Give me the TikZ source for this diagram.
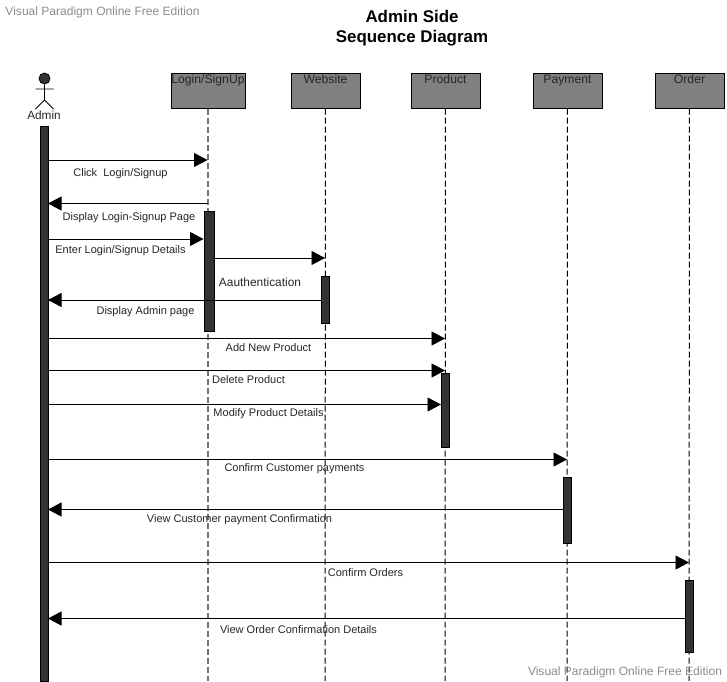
\documentclass[tikz,border=0pt]{standalone}
\usepackage{fontspec}
\setmainfont{Liberation Sans}
\usetikzlibrary{arrows.meta}

\begin{document}
\begin{tikzpicture}[x=1pt, y=-1pt,
    head/.style={draw=black, line width=1pt, fill=headgray, minimum height=35pt, inner sep=0pt,
      label={[anchor=north, inner sep=0pt, yshift=-1.5pt, text height=9pt, font=\fontsize{12.2}{14}\selectfont, text=black!85]north:#1}},
    bar/.style={draw=black, line width=0.8pt, fill=bardark, minimum width=8.5pt, inner sep=0pt},
    life/.style={dashed, dash pattern=on 6pt off 3pt, line width=1pt},
    msg/.style={line width=0.9pt, -{Triangle[length=13.5pt, width=14pt]}},
    txt/.style={font=\fontsize{11}{13}\selectfont, text=black!85, inner sep=0pt},
    stamp/.style={font=\fontsize{12.05}{14}\selectfont, text=stampgray, inner sep=0pt}]
  \definecolor{headgray}{HTML}{808080}
  \definecolor{bardark}{HTML}{333333}
  \definecolor{stampgray}{HTML}{8C8C8C}
  \useasboundingbox (0,0) rectangle (727,681);

  \node[stamp] (stampTop) at (102.5,12) {Visual Paradigm Online Free Edition};
  \node[font=\bfseries\fontsize{16.9}{20}\selectfont, align=center, inner sep=0pt] (title) at (412,28) {Admin Side\\Sequence Diagram};

  % heads
  \node[head={Login/SignUp}, minimum width=74pt] (login) at (208,90.5) {};
  \node[head={Website}, minimum width=69pt] (website) at (325.5,90.5) {};
  \node[head={Product}, minimum width=69pt] (product) at (445.5,90.5) {};
  \node[head={Payment}, minimum width=69pt] (payment) at (567.5,90.5) {};
  \node[head={Order}, minimum width=69pt] (order) at (689.5,90.5) {};

  % actor
  \node[circle, draw=black, fill=bardark, line width=0.8pt, minimum size=11pt, inner sep=0pt] (adminHead) at (44.5,78.5) {};
  \coordinate (adminHip) at (44.5,100);
  \coordinate (armL) at (35.5,89);
  \coordinate (armR) at (53.5,89);
  \coordinate (legL) at (35.5,109);
  \coordinate (legR) at (53.5,109);
  \draw[line width=0.8pt] (adminHead) -- (adminHip) (armL) -- (armR) (legL) -- (adminHip) -- (legR);
  \node[font=\fontsize{11.8}{13}\selectfont, text=black!85, inner sep=0pt] (admin) at (44,115.5) {Admin};

  % lifelines
  \coordinate (loginEnd) at (208,681);
  \coordinate (websiteEnd) at (325,681);
  \coordinate (productEnd) at (445,681);
  \coordinate (paymentEnd) at (567,681);
  \coordinate (orderEnd) at (689,681);
  \draw[life, line width=1.8pt, draw=black!55] (login) -- (loginEnd);
  \draw[life] (website) -- (websiteEnd);
  \draw[life] (product) -- (productEnd);
  \draw[life] (payment) -- (paymentEnd);
  \draw[life] (order) -- (orderEnd);

  % bars
  \node[bar, minimum height=555pt] (adminBar) at (44.5,403.5) {};
  \node[bar, minimum width=10pt, minimum height=120pt] (loginBar) at (209,271) {};
  \node[bar, minimum height=47pt] (websiteBar) at (325.5,299.5) {};
  \node[bar, minimum height=74pt] (productBar) at (445.5,410) {};
  \node[bar, minimum height=66pt] (paymentBar) at (567.5,510) {};
  \node[bar, minimum height=72pt] (orderBar) at (689.5,616) {};

  % message ends
  \coordinate (a1) at (49,160);
  \coordinate (l1) at (207.5,160);
  \coordinate (l2) at (208,203.5);
  \coordinate (a2) at (48,203.5);
  \coordinate (a3) at (49,239);
  \coordinate (l3) at (203.5,239);
  \coordinate (l4) at (213,258);
  \coordinate (w4) at (325,258);
  \coordinate (w5) at (321,300);
  \coordinate (a5) at (48,300);
  \coordinate (a6) at (49,338.5);
  \coordinate (p6) at (445,338.5);
  \coordinate (a7) at (49,370.5);
  \coordinate (p7) at (445,370.5);
  \coordinate (a8) at (49,404.5);
  \coordinate (p8) at (441,404.5);
  \coordinate (a9) at (49,459.5);
  \coordinate (y9) at (567,459.5);
  \coordinate (y10) at (563,509.5);
  \coordinate (a10) at (48,509.5);
  \coordinate (a11) at (49,562.5);
  \coordinate (o11) at (689,562.5);
  \coordinate (o12) at (685,618.5);
  \coordinate (a12) at (48,618.5);

  \path (a1) edge[msg] (l1);
  \path (l2) edge[msg] (a2);
  \path (a3) edge[msg] (l3);
  \path (l4) edge[msg] (w4);
  \path (w5) edge[msg] (a5);
  \path (a6) edge[msg] (p6);
  \path (a7) edge[msg] (p7);
  \path (a8) edge[msg] (p8);
  \path (a9) edge[msg] (y9);
  \path (y10) edge[msg] (a10);
  \path (a11) edge[msg] (o11);
  \path (o12) edge[msg] (a12);

  % message texts
  \node[txt] (t1) at (120.5,173.5) {Click\ \ Login/Signup};
  \node[txt] (t2) at (129,217.5) {Display Login-Signup Page};
  \node[txt] (t3) at (120.5,250.5) {Enter Login/Signup Details};
  \node[font=\fontsize{11.9}{14}\selectfont, text=black!85, inner sep=0pt] (t4) at (260,282) {Aauthentication};
  \node[txt] (t5) at (145.5,311.5) {Display Admin page};
  \node[txt] (t6) at (268.5,347.5) {Add New Product};
  \node[txt] (t7) at (248.5,379.5) {Delete Product};
  \node[txt] (t8) at (268.5,413.5) {Modify Product Details};
  \node[txt] (t9) at (294.5,468.5) {Confirm Customer payments};
  \node[txt] (t10) at (239.5,519.5) {View Customer payment Confirmation};
  \node[txt] (t11) at (365.5,572.5) {Confirm Orders};
  \node[txt] (t12) at (298.5,629.5) {View Order Confirmation Details};

  \node[stamp] (stampBottom) at (625,672) {Visual Paradigm Online Free Edition};
\end{tikzpicture}
\end{document}
